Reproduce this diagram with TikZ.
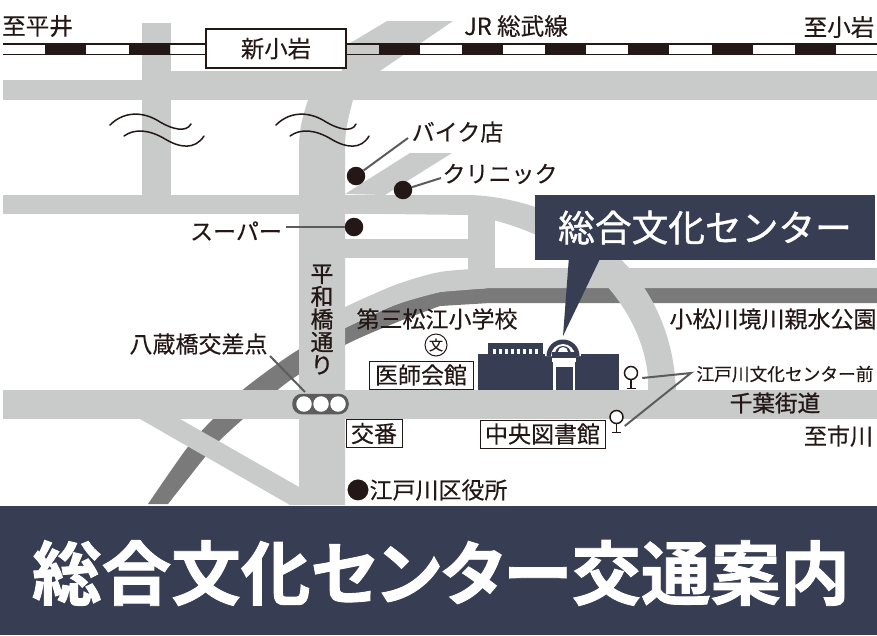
\documentclass[tikz,border=0pt]{standalone}
\usepackage{fontspec}
\setmainfont[FakeBold=0.25]{Noto Sans CJK JP}
\newfontfamily\cjkmed[FakeBold=1.0]{Noto Sans CJK JP}
\newfontfamily\cjktitle[RawFeature={+palt},BoldFont={Noto Sans CJK JP Bold},BoldFeatures={FakeBold=1.2}]{Noto Sans CJK JP}
\usetikzlibrary{calc}
\definecolor{road}{HTML}{C9CBCB}
\definecolor{river}{HTML}{7A7A7A}
\definecolor{navy}{HTML}{373D52}
\definecolor{ink}{HTML}{231815}
\definecolor{leader}{HTML}{5C5C5C}
\newcommand{\fs}[1]{\fontsize{#1}{#1}\selectfont}
\tikzset{
  x=1pt,y=-1pt,
  lbl/.style={text=ink,inner sep=0pt,outer sep=0pt,font=\fs{23}},
  boxed/.style={lbl,draw=ink,line width=1pt,fill=white,minimum height=28pt,align=center},
  roadfill/.style={fill=road,draw=none},
  dot/.style={circle,fill=ink,draw=none,minimum size=18.5pt,inner sep=0pt},
  leaderline/.style={draw=leader,line width=2pt},
  railblock/.style={fill=ink,draw=none},
  stopring/.style={circle,draw=ink,line width=1.5pt,fill=white,minimum size=13pt,inner sep=0pt},
  lamp/.style={circle,fill=white,draw=none,minimum size=15.5pt,inner sep=0pt},
  wave/.style={draw=ink,line width=1.5pt,line cap=round},
}
\begin{document}
\begin{tikzpicture}
\useasboundingbox (0,0) rectangle (877,635);
\fill[white] (0,0) rectangle (877,635);
% river
\fill[river] plot[smooth,tension=0.5] coordinates {(148,504)(187,448)(213,419)(245,388)(298,350)(345,328)(395,305)(440,292)(490,288)} -- (877,288) -- (877,303) -- (490,303) -- plot[smooth,tension=0.5] coordinates {(440,306)(395,323)(345,345)(298,375)(280,388)(243,419)(218,442)(205,457)(168,504)} -- cycle;
% embankment strip
\fill[road] plot[smooth,tension=0.5] coordinates {(345,307)(395,285)(440,272)(490,268)} -- (877,268) -- (877,288) -- (490,288) -- plot[smooth,tension=0.5] coordinates {(440,292)(395,305)(345,328)} -- cycle;
% roads
\path[roadfill] (142,23) rectangle (171,214);
\path[roadfill] (3,80) rectangle (171,100);
\path[roadfill] (171,71) rectangle (877,100);
\path[roadfill] (347,45) -- (387,21) -- (453,21) -- (380,71) -- (340,80) -- cycle;
\path[roadfill] (299,505) -- (299,147) .. controls (299,130) and (303,115) .. (308,100) -- (353,100) .. controls (349,115) and (345,130) .. (345,147) -- (345,505) -- cycle;
\path[roadfill] (3,195) rectangle (385,214);
\path[roadfill] (345,194) -- (410,153) -- (452,153) -- (385,195) -- cycle;
\path[roadfill] (345,239) rectangle (468,258);
\path[roadfill] (468,214) rectangle (495,270);
\path[roadfill] (385,195) -- (470,195) .. controls (560,198) and (672,260) .. (676,392) -- (648,392) .. controls (652,340) and (610,240) .. (470,215) -- (385,214) -- cycle;
\path[roadfill] (3,390) rectangle (877,419);
\path[roadfill] (140,419) -- (180,419) -- (299,487) -- (299,505) -- (290,505) -- cycle;
% railway
\draw[ink,line width=1.5pt] (3,44) -- (877,44);
\draw[ink,line width=1.5pt] (3,54.5) -- (877,54.5);
\foreach \a in {45,129,379,462,545,628,712,795}{
  \fill[railblock] (\a,44) rectangle ++(41,10.5);
}
\node[draw=ink,line width=1.4pt,fill=white,minimum width=140pt,minimum height=39pt,inner sep=0pt,font=\fs{23.4},text=ink] (station) at (276,48.5) {新小岩};
\node[lbl,font=\fs{23.6}] (hirai) at (37.5,26) {至平井};
\node[lbl,font=\fs{23.6}] (sobu) at (516,26) {JR 総武線};
\node[lbl,font=\fs{23.6}] (koiwa) at (839,27) {至小岩};
% break marks
\draw[wave] (110,125) .. controls (125,110) and (145,112) .. (160,122) .. controls (172,129) and (186,133) .. (191,124);
\draw[wave] (124,136) .. controls (135,128) and (150,130) .. (165,139) .. controls (180,148) and (195,150) .. (204,136);
\draw[wave] (276,125) .. controls (291,110) and (311,112) .. (326,122) .. controls (338,129) and (352,133) .. (356,124);
\draw[wave] (290,136) .. controls (301,128) and (316,130) .. (331,139) .. controls (346,148) and (361,150) .. (369,136);
% shop dots
\node[dot] (bikedot) at (356,176) {};
\node[dot] (clinicdot) at (403,190) {};
\node[dot] (superdot) at (354,227) {};
\node[lbl] (bike) at (457.5,132) {バイク店};
\node[lbl] (clinic) at (500,174) {クリニック};
\node[lbl] (super) at (236,231) {スーパー};
\coordinate (bikeend) at (408,138);
\coordinate (clinicend) at (441,178);
\coordinate (superend) at (286,227);
\draw[leaderline] (bikedot) -- (bikeend);
\draw[leaderline] (clinicdot) -- (clinicend);
\draw[leaderline] (superdot) -- (superend);
% road labels
\node[lbl,font=\cjkmed\fs{22.8},align=center] (heiwa) at (322,319.5) {平\\和\\橋\\通\\り};
\node[lbl,font=\cjkmed\fs{22.6}] (chiba) at (775,403) {千葉街道};
\node[lbl] (east) at (838.5,436) {至市川};
\node[lbl] (school) at (437,319) {第三松江小学校};
\node[circle,draw=ink,line width=1pt,minimum size=22pt,inner sep=0pt,text=ink,font=\fs{14}] (bun) at (436,345) {文};
\node[boxed,minimum width=104pt] (ishikai) at (421,375) {医師会館};
\node[lbl] (yagura) at (198.5,344) {八蔵橋交差点};
\node[boxed,minimum width=56pt] (koban) at (374,433.5) {交番};
\node[boxed,minimum width=125pt] (library) at (542.5,434) {中央図書館};
\node[lbl] (cityhall) at (427,490) {●江戸川区役所};
\node[lbl] (park) at (773,319) {小松川境川親水公園};
% signal
\node[draw=leader,line width=1.5pt,fill=leader,rounded corners=9pt,minimum width=55pt,minimum height=19pt,inner sep=0pt] (signal) at (320.5,404) {};
\node[lamp] (lampa) at (304,404) {};
\node[lamp] (lampb) at (321,404) {};
\node[lamp] (lampc) at (338,404) {};
\coordinate (yaguraend) at (270,356);
\coordinate (signalend) at (305,392);
\draw[leaderline] (yaguraend) -- (signalend);
% centre building
\node[lbl,font=\fs{17.7}] (stopname) at (785,374) {江戸川文化センター前};
\fill[navy] (478,354) rectangle (619,389.5);
\fill[navy] (488,343) rectangle (543,354);
\foreach \a in {493,499,505,511,517,523,529,535}{
  \fill[white] (\a,348.5) rectangle ++(3.4,5.5);
}
\fill[white] (545,356) arc[start angle=180,end angle=360,radius=18] -- cycle;
\fill[navy] (546.5,356) arc[start angle=180,end angle=360,radius=16.5] -- cycle;
\fill[white] (551,356) arc[start angle=180,end angle=360,radius=12] -- cycle;
\fill[navy] (555,354) arc[start angle=180,end angle=360,radius=8] -- cycle;
\fill[white] (558,352) arc[start angle=180,end angle=360,radius=5] -- cycle;
\fill[navy] (552,352) rectangle (576,358);
\fill[white] (552,358) rectangle (576,362);
\fill[white] (553,362) rectangle (575,389.5);
\fill[navy] (555.5,367) rectangle (572.5,389.5);
% callout
\node[fill=navy,minimum width=340pt,minimum height=65pt,inner sep=0pt,text=white,font=\cjkmed\fs{36.7}] (callout) at (705,227.5) {総合文化センター};
\coordinate (pointer) at (563,336);
\fill[navy] ($(callout.south west)+(34,-1)$) -- ($(callout.south west)+(65,-1)$) -- (pointer) -- cycle;
% stops
\node[stopring] (stopa) at (631,373) {};
\node[stopring] (stopb) at (616.5,417) {};
\draw[ink,line width=1.5pt] (stopa.south) -- ++(0,8) ++(-4.5,0) -- ++(9,0);
\draw[ink,line width=1.5pt] (stopb.south) -- ++(0,8) ++(-4.5,0) -- ++(9,0);
\coordinate (stopjoin) at (691,373);
\draw[leaderline] ($(stopa.east)+(4,5)$) -- (stopjoin) -- ($(stopb.east)+(1,9)$);
% title band
\node[fill=navy,minimum width=877pt,minimum height=129pt,inner sep=0pt,anchor=north west] (band) at (0,506) {};
\node[text=white,inner sep=0pt,font=\cjktitle\bfseries\fs{69.6}] (title) at (441,573) {総合文化センター交通案内};
\end{tikzpicture}
\end{document}
